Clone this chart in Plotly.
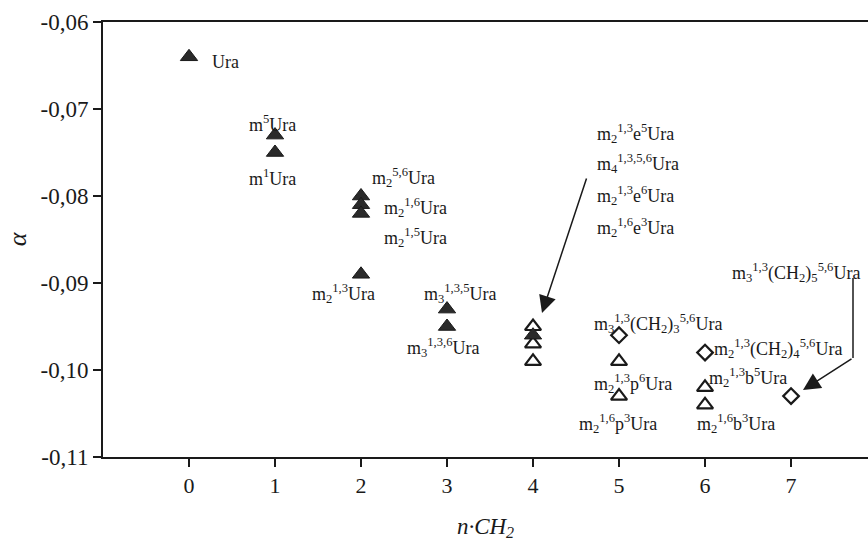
import plotly.graph_objects as go

# ---- data ----
filled_x = [0, 1, 1, 2, 2, 2, 2, 3, 3, 4]
filled_y = [-0.064, -0.073, -0.075, -0.080, -0.081, -0.082, -0.089, -0.093, -0.095, -0.096]
open_tri_x = [4, 4, 4, 5, 5, 6, 6]
open_tri_y = [-0.095, -0.097, -0.099, -0.099, -0.103, -0.102, -0.104]
diamond_x = [5, 6, 7]
diamond_y = [-0.096, -0.098, -0.103]
x_ticks = [0, 1, 2, 3, 4, 5, 6, 7]
y_ticks = [-0.06, -0.07, -0.08, -0.09, -0.10, -0.11]
y_tick_text = ["-0,06", "-0,07", "-0,08", "-0,09", "-0,10", "-0,11"]

# ---- layout geometry (pixels) ----
W, H = 868, 544
L, R, T, B = 103, 0, 22, 87
XR = [-1.0, 7.895]
YR = [-0.11, -0.06]


def px2x(px):
    return XR[0] + (px - L) / (W - L - R) * (XR[1] - XR[0])


def py2y(py):
    return YR[1] - (py - T) / (H - T - B) * (YR[1] - YR[0])


FONT = "Liberation Serif"
INK = "#1a1a1a"

fig = go.Figure()
fig.add_trace(go.Scatter(
    x=open_tri_x, y=open_tri_y, mode="markers", cliponaxis=False,
    marker=dict(symbol="triangle-up", size=14, color="white",
                line=dict(color=INK, width=2.2))))
fig.add_trace(go.Scatter(
    x=filled_x, y=filled_y, mode="markers", cliponaxis=False,
    marker=dict(symbol="triangle-up", size=15, color="#2a2a2a",
                line=dict(color=INK, width=1))))
fig.add_trace(go.Scatter(
    x=diamond_x, y=diamond_y, mode="markers", cliponaxis=False,
    marker=dict(symbol="diamond", size=12, color="white",
                line=dict(color=INK, width=2.2))))

# ---- point labels: (text, pixel x, pixel y, anchor) ----
labels = [
    ("Ura", 210, 62, "left"),
    ("m<sup>5</sup>Ura", 272, 123, "center"),
    ("m<sup>1</sup>Ura", 272, 177, "center"),
    ("m<sub>2</sub><sup>5,6</sup>Ura", 370, 177, "left"),
    ("m<sub>2</sub><sup>1,6</sup>Ura", 382, 207, "left"),
    ("m<sub>2</sub><sup>1,5</sup>Ura", 382, 237, "left"),
    ("m<sub>2</sub><sup>1,3</sup>Ura", 310, 293, "left"),
    ("m<sub>3</sub><sup>1,3,5</sup>Ura", 422, 293, "left"),
    ("m<sub>3</sub><sup>1,3,6</sup>Ura", 405, 347, "left"),
    ("m<sub>2</sub><sup>1,3</sup>e<sup>5</sup>Ura", 595, 133, "left"),
    ("m<sub>4</sub><sup>1,3,5,6</sup>Ura", 595, 163, "left"),
    ("m<sub>2</sub><sup>1,3</sup>e<sup>6</sup>Ura", 595, 195, "left"),
    ("m<sub>2</sub><sup>1,6</sup>e<sup>3</sup>Ura", 595, 227, "left"),
    ("m<sub>3</sub><sup>1,3</sup>(CH<sub>2</sub>)<sub>5</sub><sup>5,6</sup>Ura", 730, 272, "left"),
    ("m<sub>3</sub><sup>1,3</sup>(CH<sub>2</sub>)<sub>3</sub><sup>5,6</sup>Ura", 592, 323, "left"),
    ("m<sub>2</sub><sup>1,3</sup>(CH<sub>2</sub>)<sub>4</sub><sup>5,6</sup>Ura", 712, 348, "left"),
    ("m<sub>2</sub><sup>1,3</sup>b<sup>5</sup>Ura", 707, 377, "left"),
    ("m<sub>2</sub><sup>1,3</sup>p<sup>6</sup>Ura", 592, 383, "left"),
    ("m<sub>2</sub><sup>1,6</sup>p<sup>3</sup>Ura", 577, 423, "left"),
    ("m<sub>2</sub><sup>1,6</sup>b<sup>3</sup>Ura", 695, 423, "left"),
]
for text, px, py, anc in labels:
    fig.add_annotation(x=px2x(px), y=py2y(py), xref="x", yref="y", text=text,
                       showarrow=False, xanchor=anc, yanchor="middle",
                       font=dict(family=FONT, size=18, color=INK))

# ---- arrows ----
fig.add_annotation(x=px2x(542), y=py2y(313), ax=px2x(587), ay=py2y(177),
                   xref="x", yref="y", axref="x", ayref="y", text="",
                   showarrow=True, arrowhead=2, arrowsize=2.3, arrowwidth=1.5,
                   arrowcolor=INK)
fig.add_shape(type="line", xref="x", yref="y",
              x0=px2x(853), y0=py2y(278), x1=px2x(853), y1=py2y(358),
              line=dict(color=INK, width=1.5))
fig.add_annotation(x=px2x(803), y=py2y(390), ax=px2x(853), ay=py2y(358),
                   xref="x", yref="y", axref="x", ayref="y", text="",
                   showarrow=True, arrowhead=2, arrowsize=2.3, arrowwidth=1.5,
                   arrowcolor=INK)

fig.update_layout(
    width=W, height=H,
    margin=dict(l=L, r=R, t=T, b=B, autoexpand=False),
    paper_bgcolor="white", plot_bgcolor="white",
    showlegend=False, separators=", ",
    font=dict(family=FONT, color=INK),
    xaxis=dict(range=XR, tickvals=x_ticks, ticks="outside", ticklen=8,
               tickwidth=1.6, tickcolor=INK, showline=True, linewidth=2,
               linecolor=INK, mirror=True, showgrid=False, zeroline=False,
               tickfont=dict(family=FONT, size=22, color=INK),
               title=dict(text="<i>n·CH<sub>2</sub></i>", standoff=20,
                          font=dict(family=FONT, size=23, color=INK))),
    yaxis=dict(range=YR, tickvals=y_ticks, ticktext=y_tick_text,
               ticks="outside",
               ticklen=8, tickwidth=1.6, tickcolor=INK, showline=True,
               linewidth=2, linecolor=INK, showgrid=False, zeroline=False,
               tickfont=dict(family=FONT, size=23, color=INK),
               title=dict(text="<i>α</i>", standoff=6,
                          font=dict(family=FONT, size=26, color=INK))),
)

fig.write_html("out.html")
